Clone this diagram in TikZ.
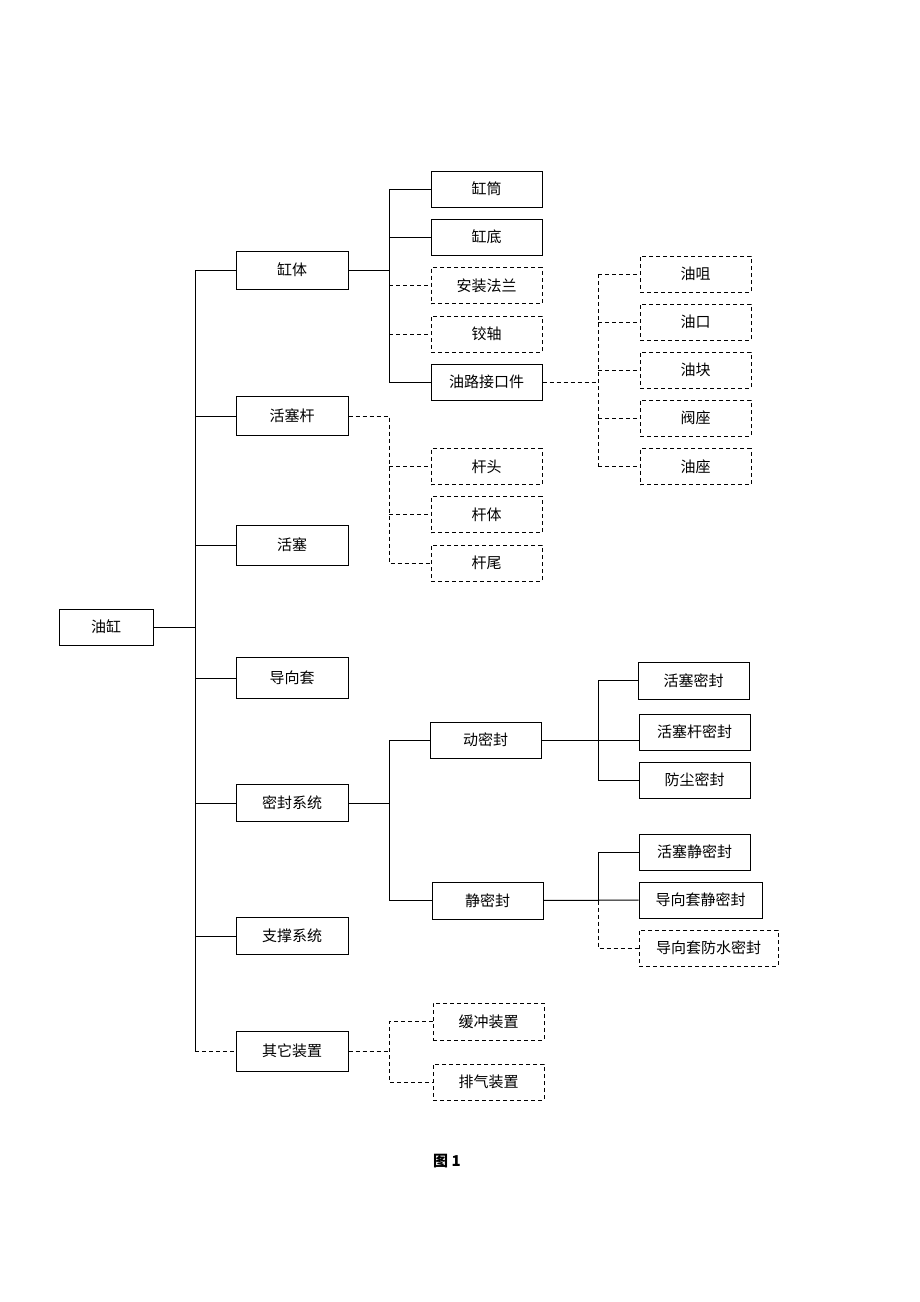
\documentclass[tikz,border=0pt]{standalone}
\usepackage{fontspec}
\setmainfont{Noto Sans CJK SC}
\usetikzlibrary{positioning, calc}

\begin{document}
\begin{tikzpicture}[
            x=1pt, y=-1pt,
            box/.style={
                rectangle,
                draw=black,
                line width=1pt,
                minimum height=36pt,
                minimum width=111pt,
                inner sep=0pt,
                align=center,
                font=\fontsize{15pt}{18pt}\selectfont
            },
            dbox/.style={box, dash pattern=on 4pt off 3pt},
            line/.style={line width=1pt},
            dline/.style={line, dash pattern=on 4pt off 3pt}
        ]

        \useasboundingbox (0,0) rectangle (920,1302);

        % Nodes
        \node[box, minimum width=94pt] (Yougang) at (106,627) {油缸};

        \node[box, minimum width=112pt, minimum height=38pt] (Gangti) at (292,270) {缸体};
        \node[box, minimum width=112pt, minimum height=39pt] (Huosaigan) at (292,416) {活塞杆};
        \node[box, minimum width=112pt, minimum height=40pt] (Huosai) at (292,545) {活塞};
        \node[box, minimum width=112pt, minimum height=41pt] (Daoxiangtao) at (292,678) {导向套};
        \node[box, minimum width=112pt, minimum height=37pt] (Mifeng) at (292,803) {密封系统};
        \node[box, minimum width=112pt, minimum height=37pt] (Zhicheng) at (292,936) {支撑系统};
        \node[box, minimum width=112pt, minimum height=40pt] (Qita) at (292,1051) {其它装置};

        \node[box] (Gangtong) at (486.5,189) {缸筒};
        \node[box] (Gangdi) at (486.5,237) {缸底};
        \node[dbox] (Falan) at (486.5,285.5) {安装法兰};
        \node[dbox] (Jiaozhou) at (486.5,334) {铰轴};
        \node[box] (Youlu) at (486.5,382) {油路接口件};

        \node[dbox] (Youzui) at (695.5,274) {油咀};
        \node[dbox] (Youkou) at (695.5,322) {油口};
        \node[dbox] (Youkuai) at (695.5,370) {油块};
        \node[dbox] (Fazuo) at (695.5,418) {阀座};
        \node[dbox] (Youzuo) at (695.5,466.5) {油座};

        \node[dbox] (Gantou) at (486.5,466.5) {杆头};
        \node[dbox] (Ganti) at (486.5,514.5) {杆体};
        \node[dbox] (Ganwei) at (486.5,563) {杆尾};

        \node[box] (Dong) at (485.5,740) {动密封};
        \node[box, minimum height=37pt] (Jing) at (487.5,900.5) {静密封};

        \node[box, minimum height=37pt] (HuosaiMF) at (693.5,680.5) {活塞密封};
        \node[box] (HuosaiganMF) at (694.5,732) {活塞杆密封};
        \node[box] (FangchenMF) at (694.5,780) {防尘密封};

        \node[box] (HuosaiJMF) at (694.5,852) {活塞静密封};
        \node[box, minimum width=123pt] (DaoxiangJMF) at (700.5,900) {导向套静密封};
        \node[dbox, minimum width=139pt] (DaoxiangFSMF) at (708.5,948) {导向套防水密封};

        \node[dbox, minimum height=37pt] (Huanchong) at (488.5,1021.5) {缓冲装置};
        \node[dbox] (Paiqi) at (488.5,1082) {排气装置};

        \node[font=\bfseries\fontsize{15pt}{18pt}\selectfont] (Caption) at (447,1161) {图\ 1};

        % Bus coordinates
        \coordinate (BusA) at (195,0);
        \coordinate (BusB) at (389,0);
        \coordinate (BusC) at (598,0);

        % Arrows
        \draw[line] (Yougang) -- (Yougang -| BusA);
        \draw[line] (BusA |- Gangti) -- (BusA |- Qita);
        \draw[line] (BusA |- Gangti) -- (Gangti);
        \draw[line] (BusA |- Huosaigan) -- (Huosaigan);
        \draw[line] (BusA |- Huosai) -- (Huosai);
        \draw[line] (BusA |- Daoxiangtao) -- (Daoxiangtao);
        \draw[line] (BusA |- Mifeng) -- (Mifeng);
        \draw[line] (BusA |- Zhicheng) -- (Zhicheng);
        \draw[dline] (BusA |- Qita) -- (Qita);

        \draw[line] (Gangti) -- (Gangti -| BusB);
        \draw[line] (BusB |- Gangtong) -- (BusB |- Youlu);
        \draw[line] (BusB |- Gangtong) -- (Gangtong);
        \draw[line] (BusB |- Gangdi) -- (Gangdi);
        \draw[dline] (BusB |- Falan) -- (Falan);
        \draw[dline] (BusB |- Jiaozhou) -- (Jiaozhou);
        \draw[line] (BusB |- Youlu) -- (Youlu);

        \draw[dline] (Youlu) -- (Youlu -| BusC);
        \draw[dline] (BusC |- Youzui) -- (BusC |- Youzuo);
        \draw[dline] (BusC |- Youzui) -- (Youzui);
        \draw[dline] (BusC |- Youkou) -- (Youkou);
        \draw[dline] (BusC |- Youkuai) -- (Youkuai);
        \draw[dline] (BusC |- Fazuo) -- (Fazuo);
        \draw[dline] (BusC |- Youzuo) -- (Youzuo);

        \draw[dline] (Huosaigan) -| (BusB |- Ganwei) -- (Ganwei);
        \draw[dline] (BusB |- Gantou) -- (Gantou);
        \draw[dline] (BusB |- Ganti) -- (Ganti);

        \draw[line] (Mifeng) -- (Mifeng -| BusB);
        \draw[line] (Dong) -| (BusB |- Jing) -- (Jing);

        \draw[line] (Dong.east) -- (Dong.east -| HuosaiganMF.west);
        \draw[line] (HuosaiMF) -| (BusC |- FangchenMF) -- (FangchenMF);

        \draw[line] (Jing) -- (DaoxiangJMF);
        \draw[line] (HuosaiJMF) -| (BusC |- Jing);
        \draw[dline] (BusC |- Jing) |- (DaoxiangFSMF);

        \draw[dline] (Qita) -- (Qita -| BusB);
        \draw[dline] (Huanchong) -| (BusB |- Paiqi) -- (Paiqi);

        \end{tikzpicture}
\end{document}
